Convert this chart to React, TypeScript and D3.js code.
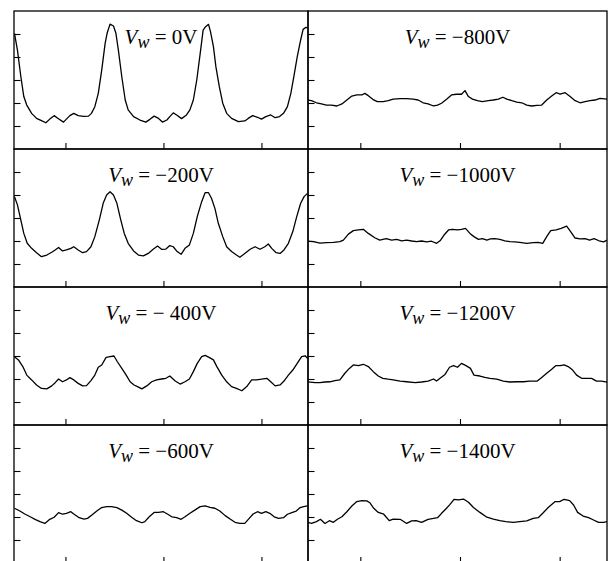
import React, { useEffect, useRef } from 'react';
import * as d3 from 'd3';

// panel labels, column by column (left column top->bottom, then right)
const labelValues = ['0V', '−200V', '− 400V', '−600V', '−800V', '−1000V', '−1200V', '−1400V'];

const xTickValues = [1, 3, 5];
const yTickValues = [1, 2, 3, 4, 5];

// traced curves: [x, y]
const vw0: [number, number][] = [
  [-0.04, 5.03], [0.02, 4.3], [0.09, 3.14], [0.15, 2.28], [0.21, 1.91], [0.31, 1.55], [0.41, 1.33], [0.51, 1.23],
  [0.6, 1.14], [0.68, 1.3], [0.77, 1.45], [0.85, 1.33], [0.96, 1.17], [1.02, 1.3], [1.09, 1.45], [1.17, 1.55],
  [1.26, 1.45], [1.37, 1.42], [1.47, 1.43], [1.53, 1.55], [1.6, 1.84], [1.67, 2.42], [1.74, 3.43], [1.81, 4.59],
  [1.85, 5.03], [1.91, 5.43], [1.98, 5.35], [2.03, 5.03], [2.08, 4.3], [2.15, 3.14], [2.22, 2.13], [2.28, 1.7],
  [2.39, 1.41], [2.52, 1.26], [2.64, 1.17], [2.73, 1.3], [2.81, 1.43], [2.9, 1.33], [2.98, 1.17], [3.07, 1.26],
  [3.13, 1.41], [3.2, 1.57], [3.27, 1.48], [3.37, 1.32], [3.47, 1.48], [3.54, 1.7], [3.61, 2.13], [3.68, 3.0],
  [3.75, 4.16], [3.81, 5.17], [3.86, 5.32], [3.92, 5.42], [3.96, 5.1], [4.02, 4.45], [4.07, 3.58], [4.14, 2.71],
  [4.21, 1.99], [4.29, 1.55], [4.39, 1.33], [4.53, 1.19], [4.66, 1.22], [4.73, 1.33], [4.82, 1.45], [4.92, 1.38],
  [5.0, 1.3], [5.09, 1.41], [5.19, 1.48], [5.28, 1.36], [5.37, 1.41], [5.45, 1.55], [5.53, 1.84], [5.6, 2.42],
  [5.66, 3.14], [5.73, 4.01], [5.8, 4.74], [5.85, 5.2], [5.91, 5.29], [5.94, 5.26],
];

const vw200: [number, number][] = [
  [-0.04, 3.93], [0.02, 3.57], [0.09, 2.91], [0.15, 2.33], [0.22, 1.9], [0.31, 1.68], [0.41, 1.49], [0.51, 1.32],
  [0.62, 1.39], [0.72, 1.51], [0.79, 1.61], [0.86, 1.72], [0.94, 1.57], [1.02, 1.61], [1.11, 1.68], [1.17, 1.75],
  [1.26, 1.61], [1.35, 1.49], [1.43, 1.54], [1.52, 1.75], [1.6, 2.19], [1.69, 2.91], [1.77, 3.64], [1.84, 4.0],
  [1.91, 4.14], [1.98, 4.0], [2.05, 3.64], [2.13, 2.91], [2.2, 2.33], [2.28, 1.9], [2.39, 1.57], [2.49, 1.39],
  [2.59, 1.35], [2.69, 1.46], [2.79, 1.64], [2.88, 1.78], [2.96, 1.64], [3.05, 1.65], [3.13, 1.8], [3.2, 1.75],
  [3.28, 1.54], [3.36, 1.42], [3.44, 1.68], [3.53, 1.83], [3.61, 2.33], [3.69, 3.06], [3.78, 3.71], [3.85, 4.1],
  [3.92, 4.1], [3.98, 3.86], [4.05, 3.42], [4.12, 2.77], [4.21, 2.19], [4.29, 1.75], [4.39, 1.54], [4.49, 1.39],
  [4.56, 1.29], [4.66, 1.46], [4.77, 1.64], [4.87, 1.75], [4.97, 1.64], [5.07, 1.75], [5.14, 1.87], [5.21, 1.68],
  [5.3, 1.49], [5.38, 1.46], [5.46, 1.61], [5.55, 1.9], [5.64, 2.41], [5.72, 3.06], [5.8, 3.64], [5.87, 3.93],
  [5.94, 4.07],
];

const vw400: [number, number][] = [
  [-0.04, 2.97], [0.04, 2.83], [0.13, 2.54], [0.21, 2.17], [0.31, 1.96], [0.41, 1.74], [0.51, 1.59], [0.62, 1.57],
  [0.72, 1.7], [0.79, 1.84], [0.86, 2.0], [0.94, 1.88], [1.02, 1.96], [1.09, 2.06], [1.17, 1.96], [1.26, 1.81],
  [1.35, 1.7], [1.43, 1.71], [1.52, 1.93], [1.6, 2.17], [1.67, 2.51], [1.74, 2.61], [1.83, 2.94], [1.91, 2.97],
  [1.99, 3.0], [2.06, 2.75], [2.15, 2.46], [2.24, 2.17], [2.32, 1.88], [2.4, 1.74], [2.47, 1.67], [2.56, 1.57],
  [2.66, 1.7], [2.76, 1.88], [2.86, 1.96], [2.96, 2.0], [3.05, 2.03], [3.13, 2.13], [3.24, 1.91], [3.34, 1.78],
  [3.44, 1.88], [3.53, 2.0], [3.61, 2.32], [3.69, 2.68], [3.78, 2.97], [3.85, 3.03], [3.94, 2.93], [4.02, 2.83],
  [4.09, 2.54], [4.19, 2.17], [4.29, 1.88], [4.39, 1.67], [4.49, 1.59], [4.6, 1.49], [4.7, 1.67], [4.8, 1.96],
  [4.9, 1.96], [5.0, 1.99], [5.11, 2.03], [5.19, 1.88], [5.28, 1.7], [5.38, 1.74], [5.46, 1.91], [5.55, 2.17],
  [5.64, 2.39], [5.73, 2.68], [5.82, 2.97], [5.89, 3.01], [5.94, 2.9],
];

const vw600: [number, number][] = [
  [-0.04, 2.38], [0.07, 2.26], [0.17, 2.13], [0.28, 2.01], [0.38, 1.9], [0.48, 1.8], [0.58, 1.72], [0.68, 1.9],
  [0.77, 1.99], [0.86, 2.19], [0.94, 2.12], [1.02, 2.16], [1.11, 2.23], [1.17, 2.13], [1.28, 1.97], [1.38, 1.91],
  [1.45, 1.94], [1.54, 2.09], [1.64, 2.26], [1.74, 2.41], [1.84, 2.45], [1.94, 2.45], [2.05, 2.41], [2.15, 2.3],
  [2.25, 2.16], [2.35, 1.99], [2.45, 1.84], [2.56, 1.75], [2.62, 1.8], [2.71, 2.01], [2.81, 2.2], [2.9, 2.2],
  [3.0, 2.23], [3.08, 2.13], [3.17, 2.01], [3.27, 1.97], [3.36, 1.9], [3.44, 2.01], [3.54, 2.16], [3.64, 2.3],
  [3.75, 2.45], [3.85, 2.48], [3.95, 2.42], [4.05, 2.38], [4.15, 2.26], [4.26, 2.06], [4.36, 1.91], [4.46, 1.77],
  [4.56, 1.72], [4.66, 1.72], [4.75, 1.94], [4.83, 2.13], [4.92, 2.23], [5.0, 2.16], [5.09, 2.23], [5.17, 2.16],
  [5.26, 2.01], [5.35, 1.94], [5.45, 1.97], [5.53, 2.12], [5.62, 2.19], [5.71, 2.26], [5.79, 2.41], [5.86, 2.45],
  [5.94, 2.48],
];

const vw800: [number, number][] = [
  [-0.06, 2.13], [0.02, 2.1], [0.12, 2.01], [0.22, 1.96], [0.32, 1.91], [0.42, 1.91], [0.53, 1.87], [0.63, 1.96],
  [0.73, 2.13], [0.83, 2.3], [0.93, 2.35], [1.03, 2.35], [1.09, 2.42], [1.16, 2.32], [1.25, 2.16], [1.34, 2.06],
  [1.46, 2.06], [1.56, 2.1], [1.66, 2.17], [1.8, 2.19], [1.93, 2.19], [2.06, 2.17], [2.16, 2.13], [2.26, 2.01],
  [2.36, 1.96], [2.47, 1.87], [2.55, 1.91], [2.63, 1.99], [2.73, 2.16], [2.83, 2.35], [2.93, 2.38], [3.03, 2.38],
  [3.1, 2.54], [3.17, 2.28], [3.25, 2.17], [3.35, 2.1], [3.45, 2.06], [3.57, 2.1], [3.67, 2.13], [3.77, 2.17],
  [3.86, 2.25], [3.94, 2.17], [4.04, 2.1], [4.14, 2.04], [4.24, 2.01], [4.34, 1.91], [4.44, 1.87], [4.54, 1.9],
  [4.64, 1.91], [4.74, 2.13], [4.84, 2.3], [4.93, 2.45], [5.01, 2.39], [5.11, 2.45], [5.21, 2.28], [5.31, 2.1],
  [5.41, 2.01], [5.51, 2.06], [5.61, 2.1], [5.71, 2.13], [5.81, 2.2], [5.96, 2.17],
];

const vw1000: [number, number][] = [
  [-0.06, 2.0], [0.06, 1.97], [0.19, 1.91], [0.32, 1.93], [0.46, 1.94], [0.59, 1.97], [0.66, 2.04], [0.76, 2.3],
  [0.86, 2.45], [0.96, 2.48], [1.06, 2.51], [1.16, 2.33], [1.29, 2.14], [1.39, 2.04], [1.52, 2.1], [1.63, 2.04],
  [1.73, 2.07], [1.83, 2.01], [1.93, 2.04], [2.03, 2.0], [2.13, 1.97], [2.23, 2.0], [2.33, 1.96], [2.43, 1.99],
  [2.53, 1.9], [2.6, 2.01], [2.68, 2.26], [2.77, 2.48], [2.85, 2.51], [2.95, 2.48], [3.03, 2.51], [3.11, 2.55],
  [3.2, 2.33], [3.28, 2.19], [3.37, 2.07], [3.45, 2.1], [3.54, 2.04], [3.61, 2.09], [3.7, 2.1], [3.8, 2.07],
  [3.9, 2.01], [4.0, 1.97], [4.1, 1.96], [4.2, 1.94], [4.34, 1.9], [4.47, 1.93], [4.57, 1.94], [4.66, 1.9],
  [4.74, 2.19], [4.82, 2.45], [4.93, 2.48], [5.03, 2.55], [5.14, 2.65], [5.22, 2.41], [5.31, 2.13], [5.41, 2.09],
  [5.51, 2.1], [5.6, 2.04], [5.69, 2.1], [5.79, 2.01], [5.88, 1.96], [5.96, 2.04],
];

const vw1200: [number, number][] = [
  [-0.06, 1.88], [0.09, 1.84], [0.19, 1.84], [0.29, 1.87], [0.39, 1.88], [0.49, 1.93], [0.59, 1.96], [0.69, 2.25],
  [0.78, 2.46], [0.86, 2.61], [0.96, 2.58], [1.06, 2.64], [1.16, 2.54], [1.26, 2.32], [1.36, 2.13], [1.45, 2.03],
  [1.56, 1.99], [1.66, 1.96], [1.8, 1.91], [1.93, 1.88], [2.1, 1.84], [2.23, 1.87], [2.36, 1.91], [2.47, 2.0],
  [2.53, 1.91], [2.6, 2.03], [2.7, 2.2], [2.79, 2.51], [2.87, 2.58], [2.95, 2.51], [3.03, 2.68], [3.12, 2.58],
  [3.21, 2.46], [3.28, 2.17], [3.4, 2.13], [3.5, 2.07], [3.6, 2.03], [3.74, 1.99], [3.87, 1.91], [4.0, 1.87],
  [4.14, 1.88], [4.27, 1.88], [4.4, 1.91], [4.55, 1.91], [4.64, 2.07], [4.74, 2.25], [4.84, 2.42], [4.92, 2.58],
  [5.01, 2.58], [5.09, 2.61], [5.17, 2.54], [5.26, 2.39], [5.34, 2.17], [5.44, 2.03], [5.54, 2.03], [5.64, 2.03],
  [5.74, 1.91], [5.84, 1.91], [5.96, 1.86],
];

const vw1400: [number, number][] = [
  [-0.06, 1.77], [0.02, 1.72], [0.12, 1.8], [0.2, 1.9], [0.29, 1.72], [0.38, 1.84], [0.46, 1.77], [0.54, 1.9],
  [0.63, 2.01], [0.73, 2.23], [0.83, 2.48], [0.93, 2.67], [1.03, 2.71], [1.13, 2.7], [1.19, 2.62], [1.27, 2.38],
  [1.36, 2.2], [1.47, 2.12], [1.58, 1.84], [1.66, 1.91], [1.8, 1.9], [1.93, 1.72], [2.03, 1.83], [2.12, 1.84],
  [2.23, 1.77], [2.36, 1.9], [2.47, 1.94], [2.55, 1.97], [2.63, 2.16], [2.73, 2.38], [2.8, 2.55], [2.88, 2.77],
  [2.97, 2.74], [3.07, 2.78], [3.17, 2.64], [3.27, 2.41], [3.4, 2.2], [3.54, 1.99], [3.67, 1.91], [3.8, 1.84],
  [3.92, 1.8], [4.07, 1.77], [4.2, 1.8], [4.34, 1.83], [4.47, 1.94], [4.57, 1.97], [4.66, 2.16], [4.77, 2.41],
  [4.91, 2.67], [5.0, 2.67], [5.09, 2.77], [5.2, 2.71], [5.28, 2.52], [5.36, 2.2], [5.47, 2.04], [5.58, 1.97],
  [5.68, 1.87], [5.78, 1.77], [5.88, 1.77], [5.96, 1.8],
];

const curves = [vw0, vw200, vw400, vw600, vw800, vw1000, vw1200, vw1400];

const W = 611;
const H = 561;
const colX = [14, 308];
const colW = [294, 299];
const rowTop = 11;
const rowH = 138;

function App() {
  const ref = useRef<SVGSVGElement>(null);

  useEffect(() => {
    const svg = d3.select(ref.current);
    svg.selectAll('*').remove();

    curves.forEach((data, i) => {
      const col = Math.floor(i / 4);
      const row = i % 4;
      const x0 = colX[col];
      const w = colW[col];
      const y0 = rowTop + row * rowH;

      const x = d3.scaleLinear().domain([-0.05, 5.95]).range([x0, x0 + w]);
      const y = d3.scaleLinear().domain([0, 6]).range([y0 + rowH, y0]);

      const g = svg.append('g');

      g.append('clipPath')
        .attr('id', 'clip' + i)
        .append('rect')
        .attr('x', x0)
        .attr('y', y0)
        .attr('width', w)
        .attr('height', rowH);

      const line = d3.line<[number, number]>()
        .x(d => x(d[0]))
        .y(d => y(d[1]));

      g.append('path')
        .datum(data)
        .attr('clip-path', 'url(#clip' + i + ')')
        .attr('fill', 'none')
        .attr('stroke', '#000')
        .attr('stroke-width', 1.3)
        .attr('stroke-linejoin', 'round')
        .attr('d', line);

      // left ticks pointing in
      const yAxis = g.append('g')
        .attr('transform', 'translate(' + x0 + ',0)')
        .call(d3.axisRight(y).tickValues(yTickValues).tickSize(6.5).tickFormat(() => ''));
      yAxis.select('.domain').remove();
      yAxis.selectAll('line').attr('stroke', '#000').attr('stroke-width', 1.1);

      // bottom ticks pointing up
      const xAxis = g.append('g')
        .attr('transform', 'translate(0,' + (y0 + rowH) + ')')
        .call(d3.axisTop(x).tickValues(xTickValues).tickSize(6).tickFormat(() => ''));
      xAxis.select('.domain').remove();
      xAxis.selectAll('line').attr('stroke', '#000').attr('stroke-width', 1.1);

      // frame
      g.append('rect')
        .attr('x', x0)
        .attr('y', y0)
        .attr('width', w)
        .attr('height', rowH)
        .attr('fill', 'none')
        .attr('stroke', '#000')
        .attr('stroke-width', 1.3);

      // title
      const t = g.append('text')
        .attr('x', x0 + w / 2)
        .attr('y', y0 + 33)
        .attr('text-anchor', 'middle')
        .attr('font-family', '"Liberation Serif", "Times New Roman", serif')
        .attr('font-size', 21)
        .attr('fill', '#000');
      t.append('tspan').attr('font-style', 'italic').text('V');
      t.append('tspan').attr('font-style', 'italic').attr('font-size', 18).attr('dy', 4).text('w');
      t.append('tspan').attr('dy', -4).text(' = ' + labelValues[i]);
    });
  }, []);

  return (
    <svg
      ref={ref}
      width={W}
      height={H}
      style={{ position: 'absolute', left: 0, top: 0, background: '#fff' }}
    />
  );
}

export default App;
